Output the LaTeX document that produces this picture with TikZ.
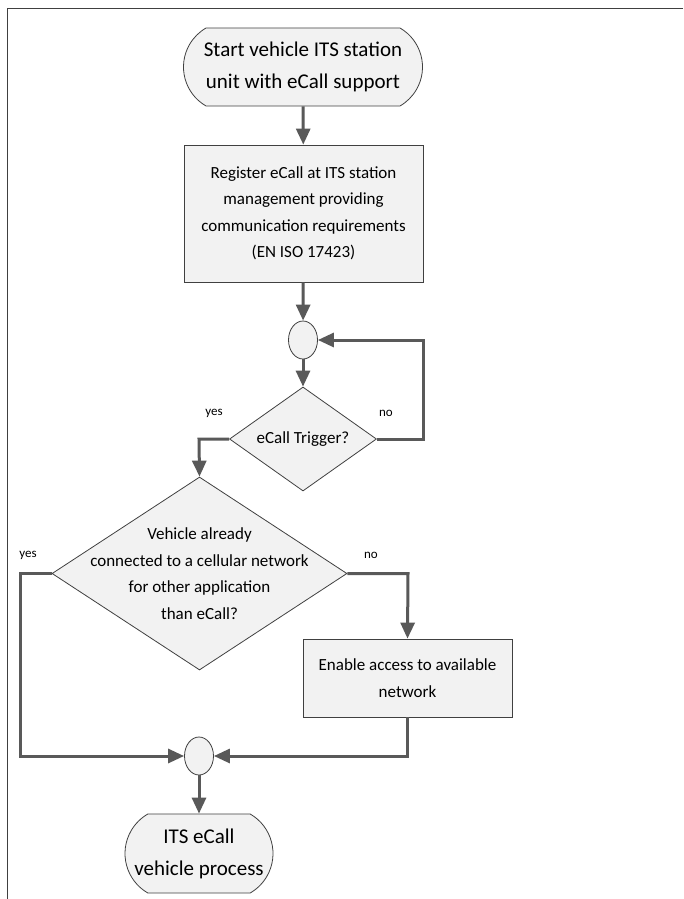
\documentclass[tikz,border=0pt]{standalone}
\usepackage{fontspec}
\setmainfont{Carlito}
\usetikzlibrary{shapes.geometric,shapes.misc,arrows.meta}
\definecolor{boxfill}{HTML}{F2F2F2}
\definecolor{boxline}{HTML}{404040}
\definecolor{conn}{HTML}{595959}
\tikzset{
  shapebase/.style={draw=boxline,fill=boxfill,line width=0.8pt,inner sep=0pt},
  terminal/.style={shapebase,rounded rectangle,rounded rectangle arc length=120},
  procbox/.style={shapebase,rectangle},
  decision/.style={shapebase,diamond},
  joint/.style={shapebase,ellipse,minimum width=29,minimum height=38},
  bigtext/.style={align=center,font=\fontsize{21}{32}\selectfont,inner sep=0pt},
  midtext/.style={align=center,font=\fontsize{17}{26.5}\selectfont,inner sep=0pt},
  smalltext/.style={font=\fontsize{13}{15}\selectfont,inner sep=0pt},
  flow/.style={draw=conn,line width=3pt,-{Triangle[length=16pt,width=14pt]}},
}
\begin{document}
\begin{tikzpicture}[x=1pt,y=-1pt]
\useasboundingbox (0,0) rectangle (683,899);
\fill[white] (0,0) rectangle (683,899);
\draw[boxline,line width=1pt] (683,9) -- (7,9) -- (7,899);

\node[terminal,minimum width=239,minimum height=78] (start) at (303,67) {};
\node[bigtext] (starttxt) at (start) {Start vehicle ITS station\\unit with eCall support};

\node[procbox,minimum width=239,minimum height=137] (reg) at (303.5,213.5) {};
\node[midtext] (regtxt) at (reg) {Register eCall at ITS station\\management providing\\communication requirements\\(EN ISO 17423)};

\node[joint] (j1) at (303,340) {};

\node[decision,minimum width=147,minimum height=104] (d1) at (303,439) {};
\node[midtext] (d1txt) at (d1) {eCall Trigger?};
\node[smalltext] (yes1) at (214,413) {yes};
\node[smalltext] (no1) at (386,413) {no};

\node[decision,minimum width=295,minimum height=193] (d2) at (199.5,573.5) {};
\node[midtext] (d2txt) at (d2) {Vehicle already\\connected to a cellular network\\for other application\\than eCall?};
\node[smalltext] (yes2) at (28,555) {yes};
\node[smalltext] (no2) at (371,555) {no};

\node[procbox,minimum width=209,minimum height=78] (en) at (407.5,678) {};
\node[midtext] (entxt) at (en) {Enable access to available\\network};

\node[joint] (j2) at (199,756) {};

\node[terminal,minimum width=148,minimum height=79] (endn) at (199,853.5) {};
\node[bigtext] (endtxt) at (endn) {ITS eCall\\vehicle process};

\coordinate (loopc) at (423,439);
\coordinate (yesc) at (199,439);
\coordinate (leftc) at (20,573.5);
\coordinate (rightc) at (408,573.5);

\draw[flow] (start) -- (reg);
\draw[flow] (reg) -- (j1);
\draw[flow] (j1) -- (d1);
\draw[flow] (d1.east) -- (loopc) |- (j1.east);
\draw[flow] (d1.west) -- (yesc) -- (d2.north);
\draw[flow] (d2.west) -- (leftc) |- (j2.west);
\draw[flow] (d2.east) -- (rightc) -- (en.north);
\draw[flow] (en.south) |- (j2.east);
\draw[flow] (j2) -- (endn);
\end{tikzpicture}
\end{document}
